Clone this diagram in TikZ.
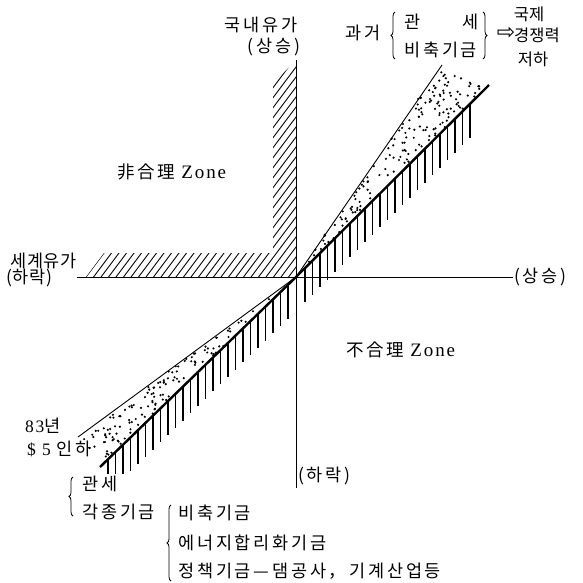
\documentclass[tikz,border=0pt]{standalone}
\usepackage{fontspec}
\setmainfont{Liberation Serif}[LetterSpace=10]
\newfontfamily\kr{Noto Sans CJK KR}[LetterSpace=16]
\newfontfamily\krs{Noto Sans CJK KR}[LetterSpace=4]
\newfontfamily\krt{Noto Sans CJK KR}
\newfontfamily\sym{DejaVu Sans}
\usetikzlibrary{decorations.pathreplacing}
\begin{document}
\begin{tikzpicture}[x=1pt,y=-1pt,
  txt/.style={inner sep=0pt, font=\fontsize{17.5}{20}\selectfont},
  txtn/.style={inner sep=0pt, font=\krt\fontsize{16.5}{19}\selectfont},
  axisline/.style={line width=0.9pt},
  thinline/.style={line width=0.9pt},
  thickline/.style={line width=2.4pt},
  hatchline/.style={line width=0.9pt},
  vhatch/.style={line width=1.1pt},
  bracel/.style={decorate, decoration={brace, amplitude=4pt}, line width=0.8pt},
  dot/.style={fill=black}]
\useasboundingbox (0,0) rectangle (583,582);

\coordinate (O) at (296,277);
\coordinate (A) at (442,65);
\coordinate (B) at (489,85);
\coordinate (P) at (78,437);
\coordinate (Q) at (100,467);
\coordinate (Xl) at (77,277);
\coordinate (Xr) at (513,277);
\coordinate (Yt) at (296,60);
\coordinate (Yb) at (296,488);

% L-shaped diagonal hatch
\begin{scope}
\clip (86,277) -- (296,277) -- (296,60) -- (273,84) -- (273,253) -- (104,253) -- cycle;
\foreach \x in {86,93.5,...,300} \draw[hatchline] (\x,277) -- ++(165,-220);
\end{scope}

% stipple, upper right
\pgfmathsetseed{7}
\foreach \i in {1,...,160} {
  \pgfmathsetmacro\ru{rnd}
  \pgfmathsetmacro\rv{rnd}
  \pgfmathsetmacro\uu{(\ru+\rv>1) ? (1-\ru) : \ru}
  \pgfmathsetmacro\vv{(\ru+\rv>1) ? (1-\rv) : \rv}
  \fill[dot] ({297+\uu*143+\vv*189},{275-\uu*208-\vv*188}) circle (1.2);
}
% stipple, lower left
\foreach \i in {1,...,125} {
  \pgfmathsetmacro\ru{rnd}
  \pgfmathsetmacro\rv{rnd}
  \pgfmathsetmacro\uu{(\ru+\rv>1) ? (1-\ru) : \ru}
  \pgfmathsetmacro\vv{(\ru+\rv>1) ? (1-\rv) : \rv}
  \fill[dot] ({294-\uu*214-\vv*192},{279+\uu*157+\vv*186}) circle (1.2);
}

% vertical hatch under thick line
\foreach \x in {305,312.5,...,473} {
  \pgfmathsetmacro\yt{277-(\x-296)*0.9948}
  \draw[vhatch] (\x,\yt) -- (\x,\yt+34);
}
\foreach \x in {288,280.5,...,108} {
  \pgfmathsetmacro\yt{277+(296-\x)*0.9694}
  \pgfmathsetmacro\yb{min(\yt+34,474)}
  \draw[vhatch] (\x,\yt) -- (\x,\yb);
}

% axes
\draw[axisline] (Xl) -- (Xr);
\draw[axisline] (Yt) -- (Yb);
% lines
\draw[thinline] (P) -- (O) -- (A);
\draw[thickline] (Q) -- (O) -- (B);

% labels
\node[txt] (dom) at (261,25) {\kr 국내유가};
\node[txt] (domup) at (274,47) {\kr (상승)};
\node[txt] (past) at (363,33) {\kr 과거};
\node[txt,anchor=west] (kw) at (404,22) {\kr 관};
\node[txt,anchor=east] (se) at (479,22) {\kr 세};
\node[txt,anchor=west] (bich) at (404,50) {\kr 비축기금};
\draw[bracel] (395,59) -- (395,12);
\draw[bracel] (483,12) -- (483,59);
\node[txt,font=\sym\fontsize{22}{24}\selectfont] (arr) at (506,33) {⇨};
\node[txtn] (kj) at (529,14) {국제};
\node[txtn] (kjr) at (537,35) {경쟁력};
\node[txtn] (jh) at (533,59) {저하};

\node[txt,anchor=west] (irr) at (117,172) {{\kr 非合理}\ {\fontsize{19}{20}\selectfont Zone}};
\node[txt,anchor=west] (world) at (10,261) {\krs 세계유가};
\node[txt,anchor=west] (wdown) at (6,278) {\krs (하락)};
\node[txt,anchor=west] (rup) at (514,277) {\kr (상승)};
\node[txt,anchor=west] (unr) at (346,350) {{\kr 不合理}\ {\fontsize{19}{20}\selectfont Zone}};
\node[txt,anchor=west] (bdown) at (298,476) {\kr (하락)};
\node[txt,anchor=west] (y83) at (25,426) {83{\kr 년}};
\node[txt,anchor=west] (cut) at (27,449) {\$ 5 {\kr 인하}};

\draw[bracel] (73,516) -- (73,477);
\node[txt,anchor=west] (kw2) at (82,484) {\kr 관세};
\node[txt,anchor=west] (kj2) at (82,512) {\kr 각종기금};
\draw[bracel] (171,581) -- (171,505);
\node[txt,anchor=west] (b1) at (178,513) {\kr 비축기금};
\node[txt,anchor=west] (b2) at (178,543) {\kr 에너지합리화기금};
\node[txt,anchor=west] (b3) at (178,571) {\kr 정책기금—댐공사，\,기계산업등};
\end{tikzpicture}
\end{document}
